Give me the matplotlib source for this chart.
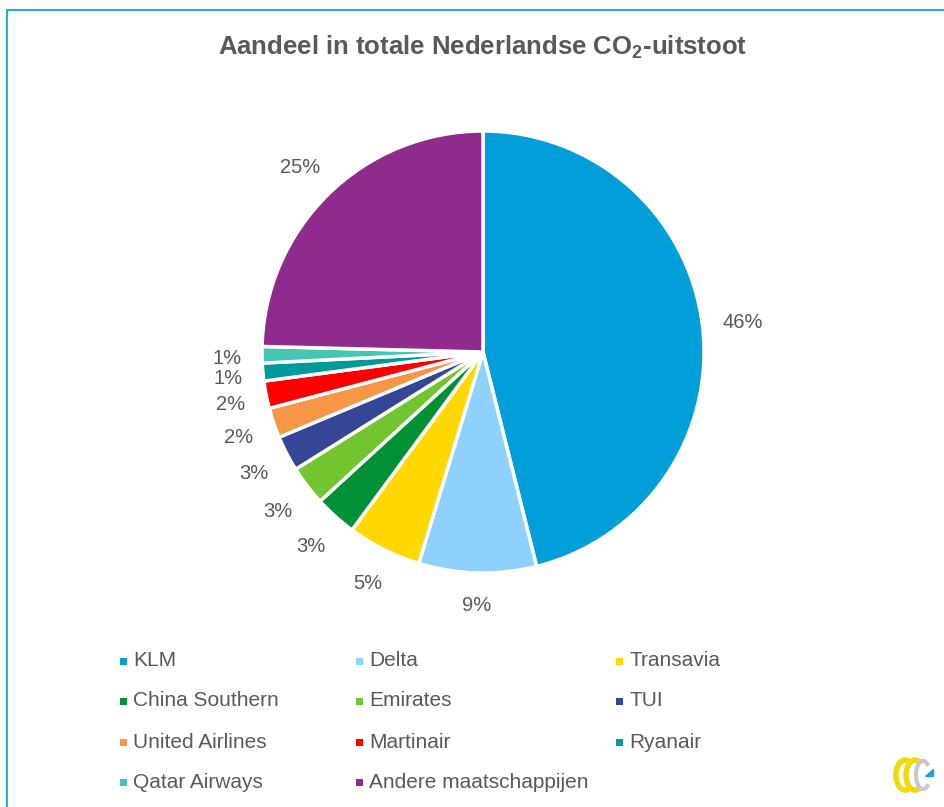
import matplotlib
matplotlib.use("Agg")
import matplotlib.pyplot as plt
import numpy as np
from matplotlib.patches import Rectangle, Arc, Polygon

# share of total Dutch CO2 emissions per airline (%)
airlines = ["KLM", "Delta", "Transavia", "China Southern", "Emirates", "TUI",
            "United Airlines", "Martinair", "Ryanair", "Qatar Airways",
            "Andere maatschappijen"]
shares = [46.1, 8.6, 5.4, 3.1, 2.9, 2.6, 2.2, 2.0, 1.3, 1.2, 24.6]
colors = ["#009FDA", "#8ED1FC", "#FFD800", "#009035", "#72C52E", "#354696",
          "#F79646", "#FF0000", "#009A9A", "#45C6B4", "#8E2B8C"]

FONT = ["Liberation Sans", "DejaVu Sans"]
TXT = "#595959"
plt.rcParams['font.family'] = FONT
plt.rcParams['mathtext.fontset'] = 'custom'
plt.rcParams['mathtext.rm'] = FONT[0]
plt.rcParams['mathtext.bf'] = FONT[0] + ":bold"

W, H = 944, 807
fig = plt.figure(figsize=(W / 100, H / 100), dpi=100)

# light blue frame (top and left edge visible)
fig.add_artist(Rectangle((7 / W, -0.1), 1.2, 1 - 10 / H + 0.1, transform=fig.transFigure,
                         fill=False, edgecolor="#29ABE2", linewidth=1.5))

fig.text(483 / W, 1 - 47 / H, r"Aandeel in totale Nederlandse CO$_\mathbf{2}$-uitstoot",
         ha="center", va="center", fontsize=18.5, fontweight="bold", color=TXT)

# pie
cx, cy, r = 483, 352, 221
ax = fig.add_axes([(cx - r) / W, (H - cy - r) / H, 2 * r / W, 2 * r / H])
wedges, _ = ax.pie(shares, colors=colors, startangle=90, counterclock=False,
                   wedgeprops=dict(edgecolor="white", linewidth=2.5))
ax.set_xlim(-1, 1)
ax.set_ylim(-1, 1)
ax.axis("off")

# data labels: the text box sits just outside the pie, like Excel does it
renderer = fig.canvas.get_renderer()
gap = 1.09
for w, s in zip(wedges, shares):
    t = ax.text(0, 0, "%.0f%%" % s, ha="center", va="center", fontsize=14.5, color=TXT)
    bb = t.get_window_extent(renderer)
    hw = bb.width / 2 / r
    hh = bb.height / 2 / r
    a = np.deg2rad((w.theta1 + w.theta2) / 2)
    d = gap + abs(np.cos(a)) * hw + abs(np.sin(a)) * hh
    t.set_position((d * np.cos(a), d * np.sin(a) - 3 / r))

# legend, 3 columns
col_x = [124, 360, 620]
row_y = [661, 701, 742, 782]
for i, (name, c) in enumerate(zip(airlines, colors)):
    x = col_x[i % 3]
    y = row_y[i // 3]
    fig.add_artist(Rectangle(((x - 4) / W, 1 - (y + 4) / H), 7 / W, 7 / H,
                             transform=fig.transFigure, facecolor=c, edgecolor="none"))
    fig.text((x + 9) / W, 1 - y / H, name, ha="left", va="center",
             fontsize=15, color=TXT)

# small logo bottom right
lax = fig.add_axes([888 / W, 1 - 795 / H, 50 / W, 40 / H])
lax.set_xlim(0, 50)
lax.set_ylim(0, 40)
lax.axis("off")
lax.add_patch(Arc((17, 20), 18, 30, theta1=70, theta2=290, color="#F2D90F", lw=4))
lax.add_patch(Arc((27, 20), 18, 30, theta1=70, theta2=290, color="#F2D90F", lw=4))
lax.add_patch(Arc((35, 20), 14, 28, theta1=60, theta2=300, color="#C8C8C8", lw=3))
lax.add_patch(Polygon([[37, 19], [45, 19], [45, 26]], closed=True, color="#1E9FE0"))

fig.savefig("out.png", dpi=100)
